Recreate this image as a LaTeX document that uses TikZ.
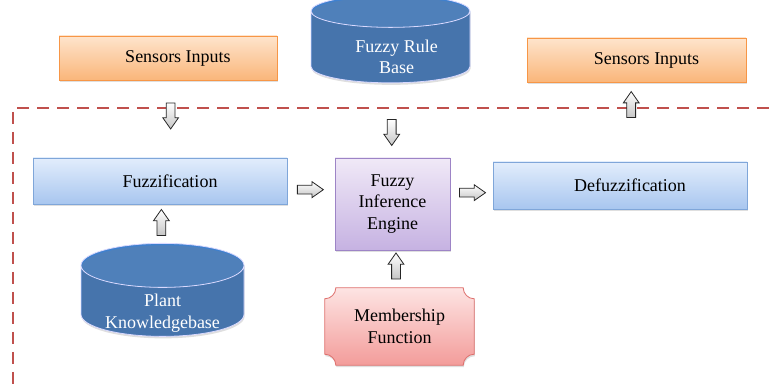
\documentclass[tikz,border=0pt]{standalone}
\usepackage{fontspec}
\setmainfont{Liberation Serif}
\usetikzlibrary{shapes.geometric,shapes.arrows,shadows,calc,backgrounds}

\definecolor{dashred}{HTML}{C0504D}
\definecolor{orangeline}{HTML}{F79646}
\definecolor{orangetop}{HTML}{FEE4CC}
\definecolor{orangebot}{HTML}{FAB67A}
\definecolor{blueline}{HTML}{7FA6D9}
\definecolor{bluetop}{HTML}{E2EDFC}
\definecolor{bluebot}{HTML}{A8C6EF}
\definecolor{purpleline}{HTML}{9D84C6}
\definecolor{purpletop}{HTML}{F0E9F7}
\definecolor{purplebot}{HTML}{C6B2E2}
\definecolor{pinkline}{HTML}{DE6F6C}
\definecolor{pinktop}{HTML}{FDE4E3}
\definecolor{pinkbot}{HTML}{F39C9A}
\definecolor{dbbody}{HTML}{3371BC}
\definecolor{dbend}{HTML}{3F80CE}

% text in the body of a database cylinder, below its top
\newcommand\dbtext[1]{\raisebox{-14pt}[0pt][0pt]{\begin{tabular}{@{}c@{}}#1\end{tabular}}}

\begin{document}
\begin{tikzpicture}[x=1pt,y=-1pt,
    font=\fontsize{18}{21.5}\selectfont,
    shadowed/.style={drop shadow={shadow xshift=0.6pt,shadow yshift=-2pt,opacity=0.25}},
    box/.style={rectangle, line width=0.8pt, inner sep=2pt, align=center, shadowed},
    widebox/.style={box, execute at begin node=\hspace*{20pt}},
    sensorbox/.style={widebox, draw=orangeline, top color=orangetop, bottom color=orangebot,
        minimum width=218pt, minimum height=44pt},
    stagebox/.style={widebox, draw=blueline, top color=bluetop, bottom color=bluebot,
        minimum width=254pt, minimum height=46pt},
    enginebox/.style={box, draw=purpleline, top color=purpletop, bottom color=purplebot,
        minimum width=115pt, minimum height=92pt},
    database/.style={cylinder, shape border rotate=90, draw=white!85!blue, line width=0.8pt,
        cylinder uses custom fill, cylinder body fill=dbbody, cylinder end fill=dbend,
        text=white, inner sep=2pt, shadowed},
    blockarrow/.style={single arrow, draw=black!85, line width=0.8pt,
        top color=white, bottom color=gray!45, inner sep=4pt,
        minimum width=15pt, minimum height=26pt, single arrow head extend=3.5pt,
        single arrow tip angle=70}
]
\useasboundingbox (0,0) rectangle (769,387);

% boundary of the controller
\draw[dashred, line width=2.6pt, dash pattern=on 12pt off 8pt] (769,108) -- (13,108) -- (13,387);

\node[sensorbox] (sensin) at (168,58) {Sensors Inputs};
\node[database, minimum width=159pt, minimum height=88pt, aspect=0.33] (rulebase) at (390.5,49) {\hspace*{12pt}\dbtext{Fuzzy Rule\\Base}};
\node[sensorbox, minimum width=219pt] (sensout) at (636.5,60) {Sensors Inputs};

\node[stagebox] (fuzz) at (160,181) {Fuzzification};
\node[enginebox] (engine) at (392.5,204) {Fuzzy\\Inference\\Engine};
\node[stagebox, minimum height=47pt] (defuzz) at (620,185.5) {Defuzzification};

\node[database, minimum width=163pt, minimum height=93pt, aspect=0.37] (plantkb) at (162.5,303.5) {\dbtext{Plant\\Knowledgebase}};
\node[align=center, minimum width=149pt, minimum height=77pt, inner sep=0pt] (member) at (399.5,326.5) {Membership\\Function};

\begin{scope}[on background layer]
    \path[draw=pinkline, line width=0.8pt, top color=pinktop, bottom color=pinkbot, shadowed]
        ($(member.north west)+(11,0)$) -- ($(member.north east)+(-11,0)$)
        .. controls +(0,6) and +(-6,0) .. ($(member.north east)+(0,11)$)
        -- ($(member.south east)+(0,-11)$)
        .. controls +(-6,0) and +(0,-6) .. ($(member.south east)+(-11,0)$)
        -- ($(member.south west)+(11,0)$)
        .. controls +(0,-6) and +(6,0) .. ($(member.south west)+(0,-11)$)
        -- ($(member.north west)+(0,11)$)
        .. controls +(6,0) and +(0,6) .. ($(member.north west)+(11,0)$) -- cycle;
\end{scope}

% block arrows
\node[blockarrow, shape border rotate=270] (a1) at ($(sensin.south)!0.42!(fuzz.north)+(6,0)$) {};
\node[blockarrow, shape border rotate=270] (a2) at ($(rulebase.south)!0.62!(engine.north)$) {};
\node[blockarrow, shape border rotate=90] (a3) at ($(defuzz.north)!0.68!(sensout.south)$) {};
\node[blockarrow] (a4) at ($(fuzz.east)!0.42!(engine.west)+(0,-1)$) {};
\node[blockarrow] (a5) at ($(engine.east)!0.45!(defuzz.west)+(0,-3)$) {};
\node[blockarrow, shape border rotate=90] (a6) at ($(plantkb.north)!0.45!(fuzz.south)$) {};
\node[blockarrow, shape border rotate=90] (a7) at ($(member.north)!0.5!(engine.south)$) {};

\end{tikzpicture}
\end{document}
